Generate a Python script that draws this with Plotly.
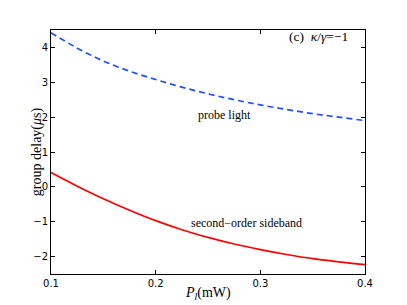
import plotly.graph_objects as go

power_mw = [0.1, 0.125, 0.15, 0.175, 0.2, 0.225, 0.25, 0.275, 0.3, 0.325, 0.35, 0.375, 0.4]
probe_delay = [4.42, 3.98, 3.61, 3.32, 3.08, 2.86, 2.67, 2.50, 2.35, 2.22, 2.10, 2.00, 1.90]
sideband_delay = [0.41, 0.02, -0.34, -0.67, -0.97, -1.23, -1.45, -1.64, -1.80, -1.94, -2.06, -2.15, -2.23]
x_ticks = [0.1, 0.2, 0.3, 0.4]
y_ticks = [-2, -1, 0, 1, 2, 3, 4]

serif = "Liberation Serif"
sans = "DejaVu Sans"

fig = go.Figure()
fig.add_trace(go.Scatter(x=power_mw, y=probe_delay, mode="lines", line_shape="spline",
                         line=dict(color="#1f4fff", width=1.7, dash="6px,4px"), showlegend=False))
fig.add_trace(go.Scatter(x=power_mw, y=sideband_delay, mode="lines", line_shape="spline",
                         line=dict(color="#ff0000", width=1.7), showlegend=False))

axis_common = dict(showgrid=False, zeroline=False, showline=True, linecolor="black", linewidth=1,
                   mirror="ticks", ticks="inside", ticklen=4, tickcolor="black", automargin=False,
                   tickfont=dict(family=sans, size=10, color="black"))
fig.update_xaxes(range=[0.1, 0.4], tickvals=x_ticks, ticktext=[str(v) for v in x_ticks], **axis_common)
fig.update_yaxes(range=[-2.5, 4.5], tickvals=y_ticks, ticktext=["\u22122", "\u22121", "0", "1", "2", "3", "4"],
                 **axis_common)

fig.add_annotation(x=-0.076, y=0.5, xref="paper", yref="paper", text="group delay(<i>\u03bc</i>s)",
                   textangle=-90, showarrow=False, font=dict(family=serif, size=14, color="black"))
fig.add_annotation(x=0.5, y=-0.08, xref="paper", yref="paper", yanchor="middle",
                   text="<i>P</i><sub><i>l</i></sub>(mW)",
                   showarrow=False, font=dict(family=serif, size=14, color="black"))
fig.add_annotation(x=0.386, y=4.3, xref="x", yref="y", text="(c)  <i>\u03ba</i>/<i>\u03b3</i>=\u22121",
                   showarrow=False, xanchor="right", font=dict(family=serif, size=13.5, color="black"))
fig.add_annotation(x=0.266, y=2.07, xref="x", yref="y", text="probe light",
                   showarrow=False, font=dict(family=serif, size=12, color="black"))
fig.add_annotation(x=0.287, y=-1.03, xref="x", yref="y", text="second\u2212order sideband",
                   showarrow=False, font=dict(family=serif, size=12, color="black"))

# page body has an 8px offset; margins compensate so the plot area sits as in the reference
fig.update_layout(width=407, height=305, margin=dict(l=43, r=50, t=22, b=39),
                  paper_bgcolor="white", plot_bgcolor="white")
fig.write_html("out.html")
